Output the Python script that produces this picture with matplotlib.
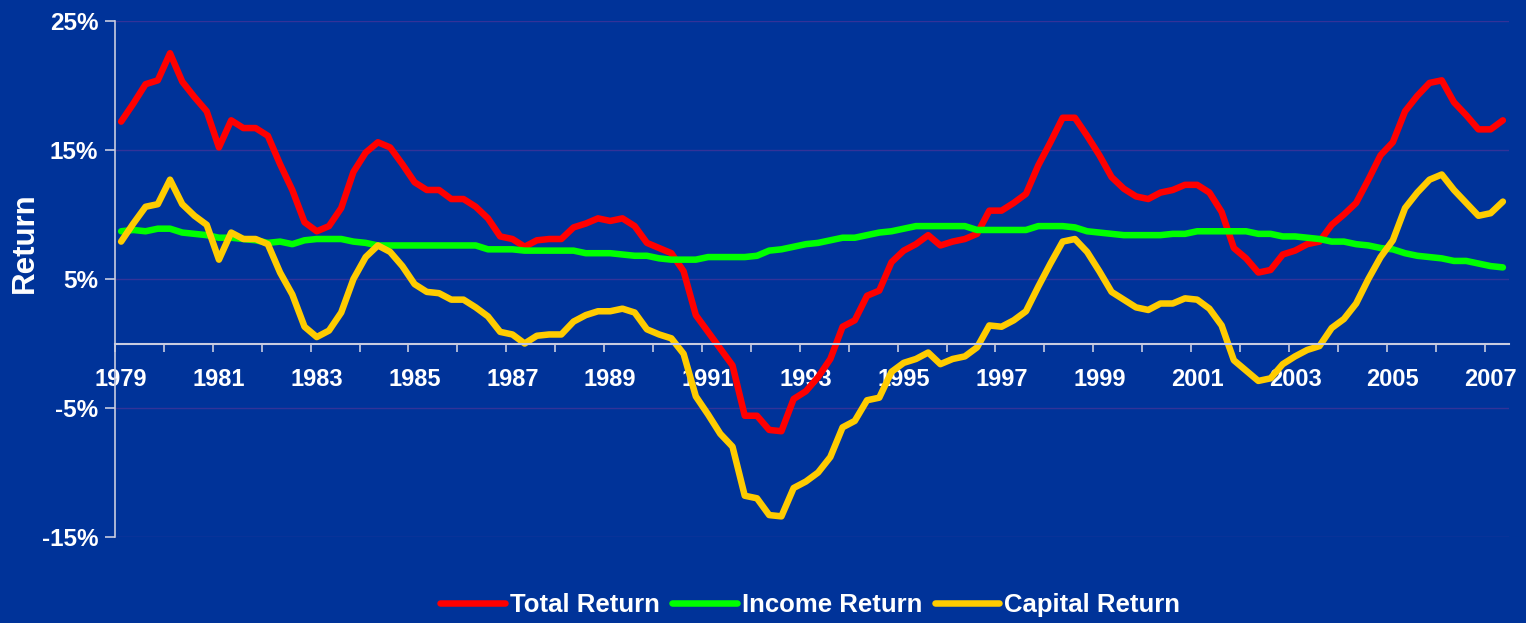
import matplotlib
matplotlib.use("Agg")
import matplotlib.pyplot as plt
import numpy as np

# quarterly rolling returns, 1979 Q1 - 2007 Q2 (%)
total_return = [17.2, 18.6, 20.1, 20.4, 22.5, 20.3, 19.1, 18.0, 15.2, 17.3, 16.7, 16.7,
                16.1, 13.9, 11.9, 9.4, 8.7, 9.1, 10.5, 13.3, 14.8, 15.6, 15.2, 13.9,
                12.5, 11.9, 11.9, 11.2, 11.2, 10.6, 9.7, 8.3, 8.1, 7.5, 8.0, 8.1,
                8.1, 9.0, 9.3, 9.7, 9.5, 9.7, 9.1, 7.8, 7.4, 7.0, 5.6,
                2.2, 0.9, -0.4, -1.7, -5.6, -5.6, -6.7, -6.8, -4.3, -3.7, -2.6, -1.2,
                1.3, 1.8, 3.7, 4.1, 6.3, 7.2, 7.7, 8.4, 7.6, 7.9, 8.1,
                8.5, 10.3, 10.3, 10.9, 11.6, 13.8, 15.6, 17.5, 17.5, 16.1, 14.6, 12.9,
                12.0, 11.4, 11.2, 11.7, 11.9, 12.3, 12.3, 11.7, 10.2,
                7.4, 6.6, 5.5, 5.7, 6.9, 7.2, 7.7, 7.9, 9.2, 10.0, 10.9, 12.7,
                14.6, 15.6, 18.0, 19.2, 20.2, 20.4, 18.7, 17.7, 16.6, 16.6, 17.3]

income_return = [8.7, 8.8, 8.7, 8.9, 8.9, 8.6, 8.5, 8.4, 8.2, 8.2, 8.1, 8.0,
                 7.8, 7.9, 7.7, 8.0, 8.1, 8.1, 8.1, 7.9, 7.8, 7.6, 7.6, 7.6,
                 7.6, 7.6, 7.6, 7.6, 7.6, 7.6, 7.3, 7.3, 7.3, 7.2, 7.2, 7.2,
                 7.2, 7.2, 7.0, 7.0, 7.0, 6.9, 6.8, 6.8, 6.6, 6.5, 6.5,
                 6.5, 6.7, 6.7, 6.7, 6.7, 6.8, 7.2, 7.3, 7.5, 7.7, 7.8, 8.0,
                 8.2, 8.2, 8.4, 8.6, 8.7, 8.9, 9.1, 9.1, 9.1, 9.1, 9.1,
                 8.8, 8.8, 8.8, 8.8, 8.8, 9.1, 9.1, 9.1, 9.0, 8.7, 8.6, 8.5,
                 8.4, 8.4, 8.4, 8.4, 8.5, 8.5, 8.7, 8.7, 8.7,
                 8.7, 8.7, 8.5, 8.5, 8.3, 8.3, 8.2, 8.1, 7.9, 7.9, 7.7, 7.6,
                 7.4, 7.3, 7.0, 6.8, 6.7, 6.6, 6.4, 6.4, 6.2, 6.0, 5.9]

capital_return = [7.9, 9.3, 10.6, 10.8, 12.7, 10.8, 9.9, 9.2, 6.5, 8.6, 8.1, 8.1,
                  7.7, 5.5, 3.8, 1.3, 0.5, 1.0, 2.4, 5.0, 6.7, 7.6, 7.1, 6.0,
                  4.6, 4.0, 3.9, 3.4, 3.4, 2.8, 2.1, 0.9, 0.7, 0.0, 0.6, 0.7,
                  0.7, 1.7, 2.2, 2.5, 2.5, 2.7, 2.4, 1.1, 0.7, 0.4, -0.8,
                  -4.1, -5.5, -7.0, -8.0, -11.8, -12.0, -13.3, -13.4, -11.2, -10.7, -10.0, -8.8,
                  -6.5, -6.0, -4.4, -4.2, -2.2, -1.5, -1.2, -0.7, -1.6, -1.2, -1.0,
                  -0.3, 1.4, 1.3, 1.8, 2.5, 4.4, 6.2, 7.9, 8.1, 7.1, 5.6, 4.0,
                  3.4, 2.8, 2.6, 3.1, 3.1, 3.5, 3.4, 2.7, 1.4,
                  -1.3, -2.1, -2.9, -2.7, -1.6, -1.0, -0.5, -0.2, 1.2, 1.9, 3.1, 5.0,
                  6.7, 8.0, 10.5, 11.7, 12.7, 13.1, 11.9, 10.9, 9.9, 10.1, 11.0]

year_labels = [str(y) for y in range(1979, 2008, 2)]
y_ticks = [-15, -5, 5, 15, 25]

bg = "#003399"
plt.rcParams["font.family"] = ["Liberation Sans", "DejaVu Sans"]
plt.rcParams["font.weight"] = "bold"

fig = plt.figure(figsize=(15.26, 6.23), dpi=100, facecolor=bg)
ax = fig.add_axes([115 / 1526, 1 - 537 / 623, 1394 / 1526, 516 / 623])
ax.set_facecolor(bg)

x = np.arange(len(total_return))
ax.plot(x, total_return, color="#FF0000", lw=4.7, label="Total Return",
        solid_capstyle="round", solid_joinstyle="round")
ax.plot(x, income_return, color="#00FF00", lw=4.7, label="Income Return",
        solid_capstyle="round", solid_joinstyle="round")
ax.plot(x, capital_return, color="#FFCC00", lw=4.7, label="Capital Return",
        solid_capstyle="round", solid_joinstyle="round")

ax.set_xlim(-0.5, len(x) - 0.5)
ax.set_ylim(-15, 25)

# y axis
ax.set_yticks(y_ticks)
ax.set_yticklabels([f"{v}%" for v in y_ticks])
ax.grid(axis="y", color="#333399", lw=1)
ax.set_axisbelow(True)
ax.tick_params(axis="y", colors="#C8CCE0", length=7, width=1.2, pad=5,
               labelsize=17.5, labelcolor="white")

# x axis crossing at zero, ticks between years, labels every 2 years
axis_col = "#C8CCE0"
ax.spines["bottom"].set_position(("data", 0))
for s in ["top", "right"]:
    ax.spines[s].set_visible(False)
ax.spines["bottom"].set_color(axis_col)
ax.spines["left"].set_color(axis_col)
ax.spines["bottom"].set_linewidth(1.5)
ax.spines["left"].set_linewidth(1.2)

ax.set_xticks(np.arange(-0.5, len(x) - 1, 4))
ax.set_xticklabels([])
ax.set_xticks(np.arange(0, len(x), 8), minor=True)
ax.set_xticklabels(year_labels, minor=True)
ax.tick_params(axis="x", which="major", colors=axis_col, length=6, width=1.2)
ax.tick_params(axis="x", which="minor", length=0, pad=18, labelsize=17,
               labelcolor="white")

fig.text(25 / 1526, 1 - 243 / 623, "Return", rotation=90, ha="center",
         va="center", fontsize=22.5, color="white", fontweight="bold")

leg = fig.legend(loc="center", bbox_to_anchor=(0.531, 0.029), ncol=3,
                 frameon=False, fontsize=18.5, handlelength=2.5,
                 handletextpad=0.2, columnspacing=0.5)
for t in leg.get_texts():
    t.set_color("white")

fig.savefig("out.png", dpi=100, facecolor=bg)
